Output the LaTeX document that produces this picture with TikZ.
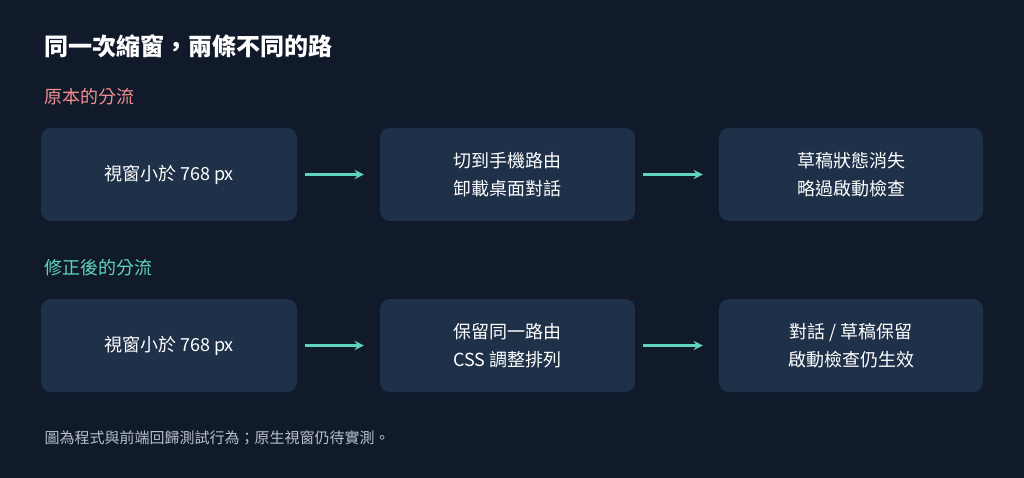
\documentclass[tikz,border=0pt]{standalone}
\usepackage{fontspec}
\setmainfont{Noto Sans CJK TC}
\usepackage{xcolor}
\usetikzlibrary{positioning}
\definecolor{bgnavy}{HTML}{111A2B}
\definecolor{boxblue}{HTML}{1F3049}
\definecolor{tealarrow}{HTML}{5FD3BC}
\definecolor{pinkhead}{HTML}{F08F8F}
\definecolor{grayfoot}{HTML}{B8C0CC}
\tikzset{
  stage/.style={rectangle, rounded corners=10pt, fill=boxblue, minimum width=256pt,
    minimum height=93pt, align=center, text=white, font=\fontsize{18}{28}\selectfont},
  flow/.style={->, >=stealth, line width=3pt, tealarrow, shorten >=2pt},
}
\begin{document}
\begin{tikzpicture}[x=1pt, y=-1pt]
        \useasboundingbox[fill=bgnavy] (0, 0) rectangle (1024, 478);
        \node[anchor=west, text=white, font=\fontsize{24}{28}\selectfont\bfseries] (title) at (41, 46) {同一次縮窗，兩條不同的路};
        \node[anchor=west, text=pinkhead, font=\fontsize{18}{22}\selectfont] (oldhead) at (41, 97) {原本的分流};
        \node[anchor=west, text=tealarrow, font=\fontsize{18}{22}\selectfont] (newhead) at (41, 268) {修正後的分流};

        \node[stage] (a1) at (169, 174.5) {視窗小於 768 px};
        \node[stage, minimum width=255pt] (a2) at (507.5, 174.5) {切到手機路由\\卸載桌面對話};
        \node[stage, minimum width=264pt] (a3) at (851, 174.5) {草稿狀態消失\\略過啟動檢查};

        \node[stage] (b1) at (169, 345.5) {視窗小於 768 px};
        \node[stage, minimum width=255pt] (b2) at (507.5, 345.5) {保留同一路由\\CSS 調整排列};
        \node[stage, minimum width=264pt] (b3) at (851, 345.5) {對話 / 草稿保留\\啟動檢查仍生效};

        \draw[flow] ([xshift=8pt]a1.east) to ([xshift=-14pt]a2.west);
        \draw[flow] ([xshift=8pt]a2.east) to ([xshift=-14pt]a3.west);
        \draw[flow] ([xshift=8pt]b1.east) to ([xshift=-14pt]b2.west);
        \draw[flow] ([xshift=8pt]b2.east) to ([xshift=-14pt]b3.west);

        \node[anchor=west, text=grayfoot, font=\fontsize{15}{18}\selectfont] (note) at (41, 438) {圖為程式與前端回歸測試行為；原生視窗仍待實測。};
    \end{tikzpicture}
\end{document}
